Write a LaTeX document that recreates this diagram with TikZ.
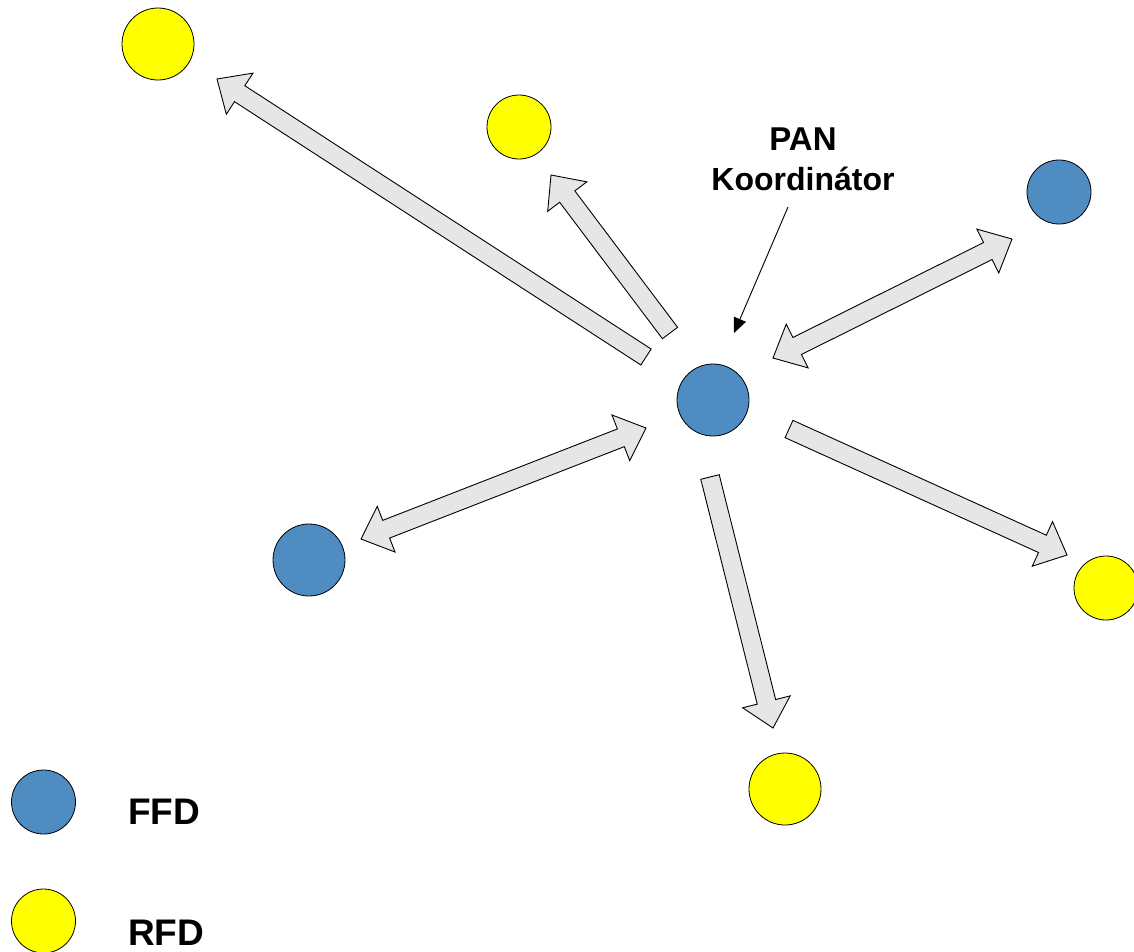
\documentclass[tikz,border=0pt]{standalone}
\usepackage{fontspec}
\setmainfont{Liberation Sans}
\usetikzlibrary{calc,arrows.meta}
\definecolor{ffdblue}{RGB}{79,140,194}
\definecolor{rfdyellow}{RGB}{255,255,0}
\definecolor{arrowgray}{RGB}{230,230,230}

% block arrow from #1 to #2, head at #2
\newcommand\blockarrow[2]{%
  \coordinate (hb) at ($(#2)!27pt!(#1)$);
  \filldraw[bigarrow] ($(#1)!9.5pt!90:(#2)$) -- ($(hb)!9.5pt!90:(#2)$)
    -- ($(hb)!24.5pt!90:(#2)$) -- (#2) -- ($(hb)!24.5pt!-90:(#2)$)
    -- ($(hb)!9.5pt!-90:(#2)$) -- ($(#1)!9.5pt!-90:(#2)$) -- cycle;
}
% block arrow with heads at both ends
\newcommand\dblockarrow[2]{%
  \coordinate (ha) at ($(#1)!27pt!(#2)$);
  \coordinate (hb) at ($(#2)!27pt!(#1)$);
  \filldraw[bigarrow] (#1) -- ($(ha)!24.5pt!90:(#2)$) -- ($(ha)!9.5pt!90:(#2)$)
    -- ($(hb)!9.5pt!90:(#2)$) -- ($(hb)!24.5pt!90:(#2)$) -- (#2)
    -- ($(hb)!24.5pt!-90:(#2)$) -- ($(hb)!9.5pt!-90:(#2)$)
    -- ($(ha)!9.5pt!-90:(#2)$) -- ($(ha)!24.5pt!-90:(#2)$) -- cycle;
}

\tikzset{
  bigarrow/.style={fill=arrowgray, draw=black, line width=0.9pt, line join=miter},
  dev/.style={circle, draw=black, line width=0.8pt, inner sep=0pt},
  ffd/.style={dev, fill=ffdblue},
  rfd/.style={dev, fill=rfdyellow},
  lbl/.style={font=\bfseries\fontsize{37}{44}\selectfont, inner sep=0pt, anchor=base west},
  pan/.style={font=\bfseries\fontsize{33}{40}\selectfont, inner sep=0pt, anchor=base},
}

\begin{document}
\begin{tikzpicture}[x=1pt, y=-1pt]
\useasboundingbox (0,0) rectangle (1134,951);

% devices
\node[rfd, minimum size=72pt] (y1) at (158,44) {};
\node[rfd, minimum size=64pt] (y2) at (519,127) {};
\node[ffd, minimum size=64pt] (b1) at (1059,192) {};
\node[ffd, minimum size=72pt] (coord) at (713,400) {};
\node[ffd, minimum size=72pt] (b2) at (309,560) {};
\node[rfd, minimum size=64pt] (y3) at (1106,588) {};
\node[rfd, minimum size=72pt] (y4) at (785,789) {};

% arrow end points
\coordinate (a1s) at (646,357); \coordinate (a1e) at (217,79);
\coordinate (a2s) at (670,333); \coordinate (a2e) at (551,175);
\coordinate (a3s) at (773,358); \coordinate (a3e) at (1012,239);
\coordinate (a4s) at (361,539); \coordinate (a4e) at (646,428);
\coordinate (a5s) at (789,429); \coordinate (a5e) at (1067,555);
\coordinate (a6s) at (710,477); \coordinate (a6e) at (773,728);

\blockarrow{a1s}{a1e}
\blockarrow{a2s}{a2e}
\dblockarrow{a3s}{a3e}
\dblockarrow{a4s}{a4e}
\blockarrow{a5s}{a5e}
\blockarrow{a6s}{a6e}

% coordinator label with pointer
\node[pan] (pan1) at (803,150) {PAN};
\node[pan, font=\bfseries\fontsize{32}{40}\selectfont] (pan2) at (803,190) {Koordinátor};
\coordinate (ptrs) at (788,207);
\coordinate (ptre) at (734,333);
\draw[line width=0.9pt, -{Triangle[length=15pt,width=13pt]}] (ptrs) -- (ptre);

% legend
\node[ffd, minimum size=64pt] (lffd) at (43.5,802) {};
\node[rfd, minimum size=64pt] (lrfd) at (43.5,921) {};
\node[lbl] (tffd) at (128,824) {FFD};
\node[lbl] (trfd) at (128,945) {RFD};
\end{tikzpicture}
\end{document}
